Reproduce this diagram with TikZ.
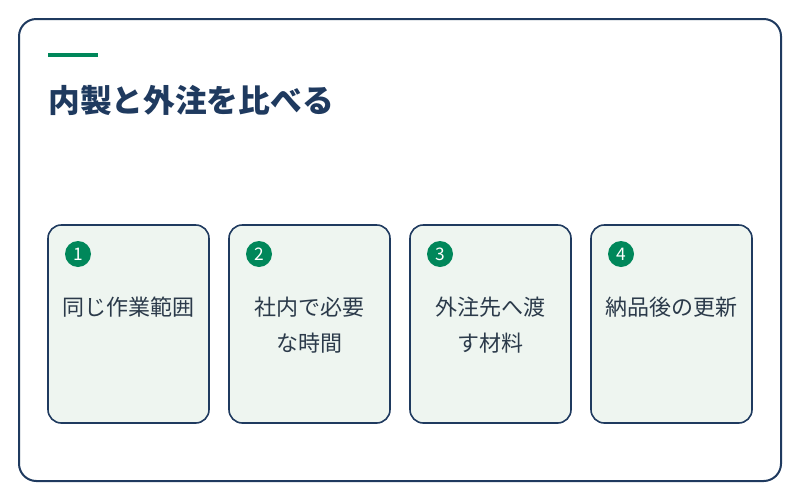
\documentclass[tikz,border=0pt]{standalone}
\usepackage{fontspec}
\setmainfont{Noto Sans CJK JP}
\usetikzlibrary{positioning}
\definecolor{navy}{HTML}{1F3A5F}
\definecolor{leaf}{HTML}{00875A}
\definecolor{pale}{HTML}{EEF5F0}
\definecolor{ink}{HTML}{2B3A4A}
\begin{document}
\begin{tikzpicture}[x=0.75pt,y=-0.75pt,
  card/.style={draw=navy,line width=1.2pt,fill=pale,rounded corners=10pt},
  num/.style={circle,fill=leaf,text=white,inner sep=0pt,minimum size=19.5pt,font=\fontsize{13}{13}\selectfont},
  lbl/.style={text=ink,align=center,font=\fontsize{16.5}{27}\selectfont}]
\useasboundingbox (0,0) rectangle (800,500);
\draw[navy,line width=1.5pt,rounded corners=13pt,fill=white] (19,19) rectangle (781,481);
\fill[leaf] (48,53) rectangle (98,57);
\node[anchor=west,text=navy,font=\bfseries\fontsize{23.8}{28}\selectfont,inner sep=0pt] (title) at (48,100) {内製と外注を比べる};
\foreach \i/\t [count=\k from 0] in {1/同じ作業範囲,2/社内で必要\\な時間,3/外注先へ渡\\す材料,4/納品後の更新}{
  \draw[card] (48+\k*181,225) rectangle (209+\k*181,423);
  \node[num] (n\i) at (78+\k*181,254) {\i};
  \node[lbl,anchor=north] (t\i) at (128.5+\k*181,292) {\t};
}
\end{tikzpicture}
\end{document}
